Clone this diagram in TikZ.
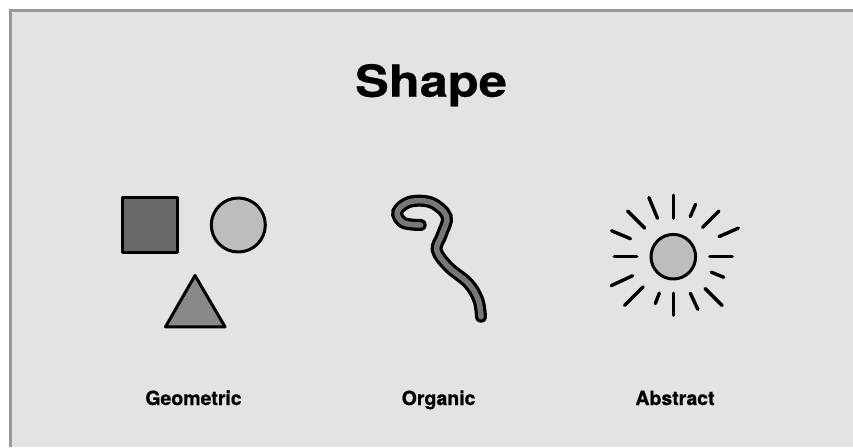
\documentclass[tikz,border=0pt]{standalone}
\usepackage{fontspec}
\setmainfont{TeX Gyre Heros}
\newfontfamily\titlefont[FakeStretch=1.15, FakeBold=0.6]{TeX Gyre Heros}
\newfontfamily\capfont[FakeBold=0.7]{TeX Gyre Heros}
\usetikzlibrary{positioning}
\usepackage{xcolor}

\definecolor{bg}{HTML}{E3E3E3}
\definecolor{framegray}{HTML}{9A9A9A}
\definecolor{darkfill}{HTML}{686868}
\definecolor{midfill}{HTML}{898989}
\definecolor{lightfill}{HTML}{BDBDBD}
\definecolor{wormfill}{HTML}{777777}

\tikzset{
  outline/.style={draw=black, line width=3pt, line join=round},
  caption/.style={font=\capfont\bfseries\fontsize{19.5}{22}\selectfont, anchor=base, inner sep=0pt},
  ray/.style={line width=3.4pt, line cap=round},
}

\begin{document}
\begin{tikzpicture}[x=1pt, y=-1pt]
    % Frame
    \useasboundingbox (0,0) rectangle (853,447);
    \fill[white] (0,0) rectangle (853,447);
    \fill[framegray] (9,9) rectangle (853,447);
    \fill[bg] (12,12) rectangle (853,447);

    % Title
    \node[font=\titlefont\bfseries\fontsize{44}{50}\selectfont, anchor=base, inner sep=0pt] (title) at (431,96.7) {Shape};

    % Geometric
    \filldraw[outline, fill=darkfill] (122.5,197.5) rectangle (177.5,252.5);
    \filldraw[outline, fill=lightfill] (238.3,225) circle (27pt);
    \filldraw[outline, fill=midfill] (165.5,326.8) -- (195,275.5) -- (225,326.8) -- cycle;

    % Organic
    \draw[line width=12pt, line cap=round, black] plot[smooth, tension=0.6] coordinates {
        (420.7,225) (403.3,222.7) (397.3,211.7) (410,201.7) (431.7,202.7)
        (446.7,216.7) (441.7,235) (436.7,250) (448.3,266.7) (468.3,283.3)
        (478.3,300) (481,316.7)};
    \draw[line width=5.5pt, line cap=round, wormfill] plot[smooth, tension=0.6] coordinates {
        (420.7,225) (403.3,222.7) (397.3,211.7) (410,201.7) (431.7,202.7)
        (446.7,216.7) (441.7,235) (436.7,250) (448.3,266.7) (468.3,283.3)
        (478.3,300) (481,316.7)};

    % Abstract
    \coordinate (sun) at (673.3,256.7);
    \filldraw[outline, fill=lightfill] (sun) circle (22.3pt);
    \foreach \ang/\rin/\rout in {90/38.5/61.5, 67/43.5/57, 45/41.5/64.5, 23.7/50/71,
        0/36.5/59, -22.2/41/54.5, -45/45/69, -65/40.3/58,
        -90/36.5/58.5, -111/39/50.2, -135/42.5/69, -155/45/68.5,
        180/36.5/59, 157.2/46.5/67, 135/40.5/64.5, 112.4/41.5/64}
        \draw[ray] ([shift={(\ang:\rin pt)}]sun) -- ([shift={(\ang:\rout pt)}]sun);

    % Labels
    \node[caption] (geo) at (193.5,405) {Geometric};
    \node[caption] (org) at (438.6,405) {Organic};
    \node[caption] (abs) at (675,405) {Abstract};
\end{tikzpicture}
\end{document}
